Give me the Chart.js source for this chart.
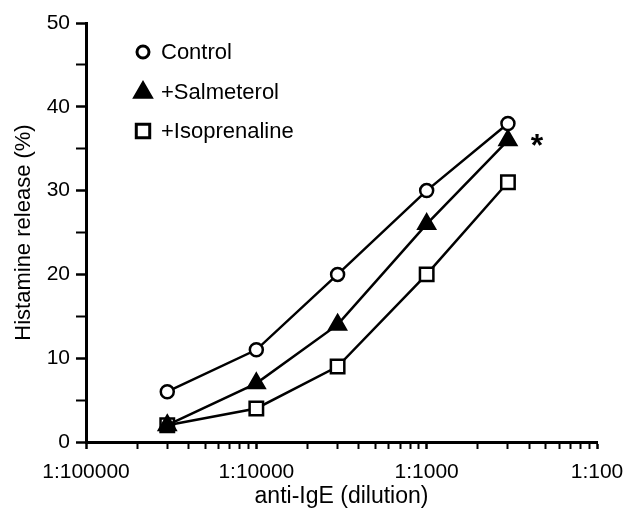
<!DOCTYPE html>
<html lang="en">
<head>
  <meta charset="UTF-8">
  <title>Histamine release vs anti-IgE dilution</title>
  <script src="https://cdn.jsdelivr.net/npm/chart.js"></script>
  <style>
    body {
      margin: 0;
      background: #fff;
    }
    #chart-box {
      position: relative;
      width: 628px;
      height: 508px;
    }
  </style>
</head>
<body>
  <div id="chart-box">
    <canvas id="release-chart"></canvas>
  </div>

  <script>
    // anti-IgE dilution (as fraction) for each measured point
    const dilutions = [3e-5, 1e-4, 3e-4, 1e-3, 3e-3];

    // Histamine release (%)
    const control = [6, 11, 20, 30, 38];
    const salmeterol = [2, 7, 14, 26, 36];
    const isoprenaline = [2, 4, 9, 20, 31];

    const seriesNames = ['Control', '+Salmeterol', '+Isoprenaline'];

    // axis ticks
    const xTickValues = [1e-5, 1e-4, 1e-3, 1e-2];
    const xTickLabels = ['1:100000', '1:10000', '1:1000', '1:100'];
    const yTickLabels = [0, 10, 20, 30, 40, 50];

    const starLabel = '*';

    const FONT = '"Liberation Sans", Arial, Helvetica, sans-serif';

    function toPoints(values) {
      return values.map((v, i) => ({ x: dilutions[i], y: v }));
    }

    function isDecade(v) {
      return xTickValues.some(t => Math.abs(v - t) / t < 1e-6);
    }

    const datasets = [
      {
        label: seriesNames[0],
        data: toPoints(control),
        pointStyle: 'circle',
        pointRadius: 6.5,
        pointBackgroundColor: '#fff'
      },
      {
        label: seriesNames[1],
        data: toPoints(salmeterol),
        pointStyle: 'triangle',
        pointRadius: 9.5,
        pointBackgroundColor: '#000'
      },
      {
        label: seriesNames[2],
        data: toPoints(isoprenaline),
        pointStyle: 'rect',
        pointRadius: 9.5,
        pointBackgroundColor: '#fff'
      }
    ].map(ds => Object.assign(ds, {
      showLine: true,
      borderColor: '#000',
      borderWidth: 2.5,
      pointBorderColor: '#000',
      pointBorderWidth: 2.5,
      pointHoverRadius: ds.pointRadius
    }));

    // legend drawn inside the plot, top left
    const legendSizes = { circle: 6, triangle: 9.5, rect: 9.5 };
    const innerLegend = {
      id: 'innerLegend',
      afterDraw(chart) {
        const ctx = chart.ctx;
        const x0 = 143, y0 = 52, gap = 39.5;
        ctx.save();
        ctx.font = '22px ' + FONT;
        ctx.textBaseline = 'middle';
        chart.data.datasets.forEach((ds, i) => {
          const y = y0 + i * gap;
          ctx.strokeStyle = '#000';
          ctx.lineWidth = 3;
          ctx.fillStyle = ds.pointBackgroundColor;
          Chart.helpers.drawPoint(ctx, {
            pointStyle: ds.pointStyle,
            radius: legendSizes[ds.pointStyle],
            rotation: 0,
            borderWidth: 3
          }, x0, ds.pointStyle === 'triangle' ? y + 1 : y);
          ctx.fillStyle = '#000';
          ctx.fillText(ds.label, x0 + 18, y + 1);
        });
        ctx.restore();
      }
    };

    // significance mark next to the last salmeterol point
    const starMark = {
      id: 'starMark',
      afterDatasetsDraw(chart) {
        const ctx = chart.ctx;
        const last = dilutions.length - 1;
        const x = chart.scales.x.getPixelForValue(dilutions[last]) + 29;
        const y = chart.scales.y.getPixelForValue(salmeterol[last]) + 7;
        ctx.save();
        ctx.font = 'bold 32px ' + FONT;
        ctx.fillStyle = '#000';
        ctx.textAlign = 'center';
        ctx.textBaseline = 'middle';
        ctx.fillText(starLabel, x, y);
        ctx.restore();
      }
    };

    const ctx = document.getElementById('release-chart').getContext('2d');
    new Chart(ctx, {
      type: 'scatter',
      data: { datasets },
      plugins: [innerLegend, starMark],
      options: {
        responsive: true,
        maintainAspectRatio: false,
        animation: false,
        layout: {
          padding: { top: 23, right: 31, left: 0, bottom: 0 }
        },
        plugins: {
          legend: { display: false },
          tooltip: { enabled: false }
        },
        scales: {
          x: {
            type: 'logarithmic',
            position: 'bottom',
            min: xTickValues[0],
            max: xTickValues[xTickValues.length - 1],
            border: { color: '#000', width: 3 },
            grid: {
              drawOnChartArea: false,
              tickLength: 7,
              tickColor: '#000',
              tickWidth: c => (c.tick && isDecade(c.tick.value)) ? 2.5 : 2
            },
            afterBuildTicks(scale) {
              const ticks = [];
              xTickValues.forEach((d, i) => {
                if (i === xTickValues.length - 1) {
                  ticks.push({ value: d });
                  return;
                }
                for (let m = 1; m < 10; m++) ticks.push({ value: m * d });
              });
              scale.ticks = ticks;
            },
            afterFit(scale) {
              scale.height = 66;
              scale.paddingLeft = 0;
              scale.paddingRight = 0;
            },
            ticks: {
              autoSkip: false,
              maxRotation: 0,
              padding: 11,
              color: '#000',
              font: { family: FONT, size: 21 },
              callback(value) {
                const i = xTickValues.findIndex(t => Math.abs(value - t) / t < 1e-6);
                return i >= 0 ? xTickLabels[i] : '';
              }
            },
            title: {
              display: true,
              text: 'anti-IgE (dilution)',
              color: '#000',
              font: { family: FONT, size: 23, lineHeight: 0.9 },
              padding: { top: 0, bottom: 1 }
            }
          },
          y: {
            min: 0,
            max: 50,
            border: { color: '#000', width: 3 },
            grid: {
              drawOnChartArea: false,
              tickLength: 10,
              tickColor: '#000',
              tickWidth: c => (c.tick && yTickLabels.includes(c.tick.value)) ? 2.5 : 2
            },
            afterFit(scale) {
              scale.width = 86;
              scale.paddingTop = 0;
              scale.paddingBottom = 0;
            },
            ticks: {
              stepSize: 5,
              padding: 6,
              color: '#000',
              font: { family: FONT, size: 21 },
              callback(value) {
                return yTickLabels.includes(value) ? String(value) : '';
              }
            },
            title: {
              display: true,
              text: 'Histamine release (%)',
              color: '#000',
              font: { family: FONT, size: 22 },
              padding: { top: 11, bottom: 0 }
            }
          }
        }
      }
    });
  </script>
</body>
</html>
